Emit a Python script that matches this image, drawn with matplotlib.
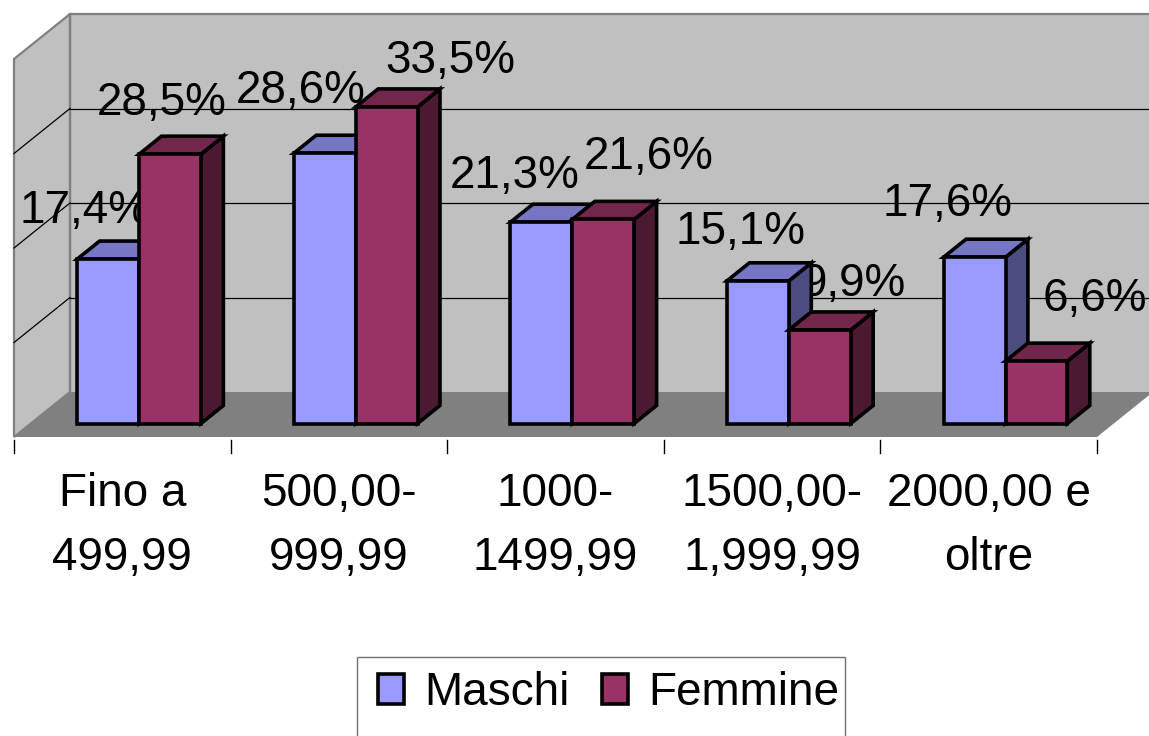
import matplotlib
matplotlib.use("Agg")
import matplotlib.pyplot as plt
from matplotlib.patches import Polygon, Rectangle, Patch

# ---------------- data ----------------
categories = ["Fino a\n499,99", "500,00-\n999,99", "1000-\n1499,99",
              "1500,00-\n1,999,99", "2000,00 e\noltre"]
series_names = ["Maschi", "Femmine"]
maschi = [17.4, 28.6, 21.3, 15.1, 17.6]
femmine = [28.5, 33.5, 21.6, 9.9, 6.6]
grid_values = [10, 20, 30]
axis_max = 40

# ---------------- style ----------------
plt.rcParams['font.family'] = ['Liberation Sans', 'DejaVu Sans']
W, H = 1149, 736
FS = 33
colors_front = ['#9999FF', '#993366']
colors_top = ['#7676C4', '#72264C']
colors_side = ['#4C4C80', '#4B1932']
wall_col = '#C0C0C0'
floor_col = '#808080'
edge_gray = '#808080'

# label offsets in pixels (dx, dy) from the bar's front-top centre
label_off = [
    [(-24, 36), (-24, 50), (-27, 34), (-17, 37), (-27, 41)],
    [(-8, 39), (64, 34), (45, 50), (34, 34), (58, 50)],
]

fig = plt.figure(figsize=(W / 100, H / 100), dpi=100)
ax = fig.add_axes([0, 0, 1, 1])

# oblique projection geometry (pixels)
X0, Y0 = 14, 437          # front-left floor corner
PX_CAT, PX_PCT = 216.6, 9.45
DEPTH_PX = (56, 45)
ax.set_xlim((0 - X0) / PX_CAT, (W - X0) / PX_CAT)
ax.set_ylim((Y0 - H) / PX_PCT, Y0 / PX_PCT)
ax.axis('off')
DX = DEPTH_PX[0] / PX_CAT
DY = DEPTH_PX[1] / PX_PCT


def P(x, v, d):
    return (x + d * DX, v + d * DY)


n = len(categories)

# walls & floor
ax.add_patch(Polygon([P(0, 0, 1), P(n + 1, 0, 1), P(n + 1, axis_max, 1), P(0, axis_max, 1)],
                     closed=True, fc=wall_col, ec='none', zorder=1))
ax.add_patch(Polygon([P(0, 0, 0), P(0, 0, 1), P(0, axis_max, 1), P(0, axis_max, 0)],
                     closed=True, fc=wall_col, ec=edge_gray, lw=1.6, zorder=1.2))
ax.add_patch(Polygon([P(0, 0, 0), P(n, 0, 0), P(n, 0, 1), P(0, 0, 1)],
                     closed=True, fc=floor_col, ec='none', zorder=1.1))
# back wall border
ax.plot(*zip(P(0, axis_max, 1), P(n + 1, axis_max, 1)), color=edge_gray, lw=1.6, zorder=1.3)
ax.plot(*zip(P(0, 0, 1), P(0, axis_max, 1)), color=edge_gray, lw=1.6, zorder=1.3)

# gridlines
for g in grid_values:
    ax.plot(*zip(P(0, g, 1), P(n + 1, g, 1)), color='black', lw=0.9, zorder=1.5)
    ax.plot(*zip(P(0, g, 0), P(0, g, 1)), color='black', lw=0.9, zorder=1.5)

# category ticks below floor
t0, t1 = -3 / PX_PCT, -16 / PX_PCT
for k in range(n + 1):
    ax.plot([k, k], [t0, t1], color='black', lw=1, zorder=2)

# category labels
for i, cat in enumerate(categories):
    ax.annotate(cat, xy=P(i + 0.5, 0, 0), xytext=(0, -35), textcoords='offset pixels',
                ha='center', va='top', fontsize=FS, linespacing=1.6, zorder=3)

# bars
w = 1 / 3.5
d0, d1 = 0.3, 0.7
values = [maschi, femmine]
z = 5
for i in range(n):
    for s in range(2):
        v = values[s][i]
        x0 = i + 0.5 - w + s * w
        x1 = x0 + w
        front = [P(x0, 0, d0), P(x1, 0, d0), P(x1, v, d0), P(x0, v, d0)]
        top = [P(x0, v, d0), P(x1, v, d0), P(x1, v, d1), P(x0, v, d1)]
        side = [P(x1, 0, d0), P(x1, 0, d1), P(x1, v, d1), P(x1, v, d0)]
        for poly, c in ((side, colors_side[s]), (top, colors_top[s]), (front, colors_front[s])):
            ax.add_patch(Polygon(poly, closed=True, fc=c, ec='black', lw=2.6,
                                 joinstyle='miter', zorder=z))
        z += 0.1
        lbl = f"{v:.1f}".replace('.', ',') + '%'
        ax.annotate(lbl, xy=P((x0 + x1) / 2, v, d0), xytext=label_off[s][i],
                    textcoords='offset pixels', ha='center', va='baseline',
                    fontsize=FS, zorder=3)

# legend frame (extends below the figure edge)
fig.add_artist(Rectangle((357 / W, -0.1), (845 - 357) / W, (H - 657) / H + 0.1,
                         transform=fig.transFigure, fill=False, ec='#707070', lw=1))
handles = [Patch(fc=colors_front[k], ec='black', lw=2.6) for k in range(2)]
fig.legend(handles, series_names, ncol=2, loc='center left',
           bbox_to_anchor=(378 / W, 1 - 693 / H), fontsize=33, frameon=False,
           handlelength=0.56, handleheight=0.64, handletextpad=0.44,
           columnspacing=0.72, borderpad=0, borderaxespad=0)

fig.savefig('out.png', dpi=100)
